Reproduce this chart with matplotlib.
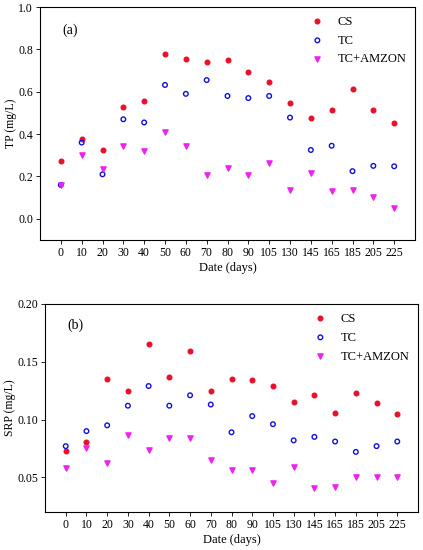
import matplotlib
matplotlib.use("Agg")
import matplotlib.pyplot as plt
import numpy as np

days = ["0","10","20","30","40","50","60","70","80","90","105","130","145","165","185","205","225"]
tp_cs = [0.275,0.375,0.325,0.53,0.555,0.78,0.755,0.74,0.748,0.695,0.648,0.545,0.475,0.515,0.612,0.515,0.45]
tp_tc = [0.16,0.36,0.21,0.47,0.455,0.632,0.59,0.655,0.58,0.57,0.58,0.478,0.325,0.345,0.225,0.25,0.248]
tp_am = [0.16,0.30,0.235,0.345,0.32,0.41,0.345,0.205,0.24,0.205,0.262,0.137,0.215,0.13,0.137,0.105,0.05]
srp_cs = [0.073,0.081,0.135,0.125,0.165,0.137,0.159,0.125,0.135,0.134,0.129,0.115,0.121,0.106,0.123,0.114,0.105]
srp_tc = [0.077,0.090,0.095,0.112,0.129,0.112,0.121,0.113,0.089,0.103,0.096,0.082,0.085,0.081,0.072,0.077,0.081]
srp_am = [0.058,0.075,0.062,0.087,0.074,0.084,0.084,0.065,0.056,0.056,0.045,0.059,0.041,0.042,0.050,0.050,0.050]

plt.rcParams['font.family'] = ['Liberation Serif', 'DejaVu Serif']
fig = plt.figure(figsize=(4.23, 5.5), dpi=100)
ax1 = fig.add_axes([40/423, 1-240/550, 375/423, 233/550])
ax2 = fig.add_axes([45/423, 1-512/550, 373/423, 208/550])
x = np.arange(len(days))

def draw(ax, cs, tc, am, ylabel, ylim, yticks, fmt, lab):
    ax.scatter(x, cs, s=11, c='#e8112d', marker='o', label='CS', zorder=3)
    ax.scatter(x, tc, s=11, facecolors='none', edgecolors='#1010e0', linewidths=1.0, marker='o', label='TC', zorder=3)
    ax.scatter(x, am, s=14, c='#ee22ee', marker='v', label='TC+AMZON', zorder=3)
    ax.set_xlim(-1, 17)
    ax.set_ylim(*ylim)
    ax.set_xticks(x)
    ax.set_xticklabels(days, fontsize=8.5)
    ax.set_yticks(yticks)
    ax.set_yticklabels([fmt.format(v) for v in yticks], fontsize=8.5)
    ax.tick_params(direction='out', length=3, width=0.6, pad=2)
    for s in ax.spines.values():
        s.set_linewidth(0.8)
    ax.set_ylabel(ylabel, fontsize=8.5, labelpad=1)
    ax.set_xlabel('Date (days)', fontsize=9, labelpad=2)
    ax.text(0.06, 0.93, lab, transform=ax.transAxes, fontsize=10, va='top')
    ax.legend(loc='upper right', frameon=False, fontsize=9, handletextpad=0.6,
              borderaxespad=0.3, labelspacing=0.55, markerscale=1.0)

draw(ax1, tp_cs, tp_tc, tp_am, 'TP (mg/L)', (-0.1, 1.0), [0.0,0.2,0.4,0.6,0.8,1.0], '{:.1f}', '(a)')
draw(ax2, srp_cs, srp_tc, srp_am, 'SRP (mg/L)', (0.02, 0.20), [0.05,0.10,0.15,0.20], '{:.2f}', '(b)')
fig.savefig('out.png', dpi=100)
